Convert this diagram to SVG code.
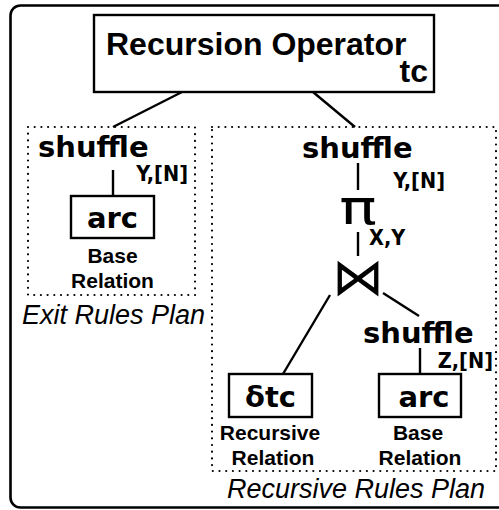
<svg xmlns="http://www.w3.org/2000/svg" width="499" height="510" viewBox="0 0 499 510">
  <style>
    .frame { fill: none; stroke: #000; stroke-width: 2.6; }
    .box { fill: #fff; stroke: #000; stroke-width: 2.4; }
    .plan { fill: none; stroke: #000; stroke-width: 2.2; stroke-dasharray: 0 6.7; stroke-linecap: round; }
    .edge { stroke: #000; stroke-width: 2.4; fill: none; }
    .title { font-family: "Liberation Sans", Arial, sans-serif; font-weight: bold; font-size: 32px; }
    .op { font-family: "DejaVu Sans", sans-serif; font-weight: bold; font-size: 29px; }
    .key { font-family: "DejaVu Sans Condensed", "DejaVu Sans", sans-serif; font-weight: bold; font-size: 21.5px; }
    .cap { font-family: "Liberation Sans", Arial, sans-serif; font-weight: bold; font-size: 21px; text-anchor: middle; }
    .plan-label { font-family: "Liberation Sans", Arial, sans-serif; font-style: italic; font-size: 27px; }
    .mid { text-anchor: middle; }
    .pi { font-family: "DejaVu Sans", sans-serif; font-size: 48px; text-anchor: middle; }
    .bowtie { font-family: "DejaVu Sans", sans-serif; font-size: 52px; text-anchor: middle; }
  </style>

  <!-- outer frame -->
  <rect class="frame" x="10.5" y="5.5" width="500" height="502" rx="10" ry="10"/>

  <!-- plan regions -->
  <g id="exit-plan">
    <rect class="plan" x="28" y="127" width="167" height="168"/>
    <text class="plan-label" x="22" y="324">Exit Rules Plan</text>
  </g>
  <g id="recursive-plan">
    <rect class="plan" x="212" y="127" width="284" height="344"/>
    <text class="plan-label" x="227" y="498">Recursive Rules Plan</text>
  </g>

  <!-- connectors -->
  <g id="connectors">
    <line class="edge" x1="182" y1="92" x2="113" y2="127"/>
    <line class="edge" x1="313" y1="92" x2="355" y2="127"/>
    <line class="edge" x1="113" y1="170" x2="113" y2="196"/>
    <line class="edge" x1="358" y1="163" x2="358" y2="190"/>
    <line class="edge" x1="358" y1="232" x2="358" y2="256"/>
    <line class="edge" x1="330" y1="295" x2="283" y2="374"/>
    <line class="edge" x1="383" y1="293" x2="419" y2="316"/>
    <line class="edge" x1="420" y1="348" x2="420" y2="374"/>
  </g>

  <!-- nodes -->
  <g id="recursion-operator">
    <rect class="box" x="94" y="15" width="340" height="77"/>
    <text class="title" x="106" y="55">Recursion Operator</text>
    <text class="title" x="428" y="82" text-anchor="end">tc</text>
  </g>

  <g id="exit-shuffle">
    <text class="op" x="38" y="157">shuffle</text>
    <text class="key" x="188" y="181" text-anchor="end">Y,[N]</text>
  </g>

  <g id="exit-arc">
    <rect class="box" x="71" y="196" width="83" height="42"/>
    <text class="op mid" x="112.5" y="228">arc</text>
    <text class="cap" x="112.5" y="263">Base</text>
    <text class="cap" x="112.5" y="288">Relation</text>
  </g>

  <g id="rec-shuffle">
    <text class="op" x="302" y="158">shuffle</text>
    <text class="key" x="445" y="188" text-anchor="end">Y,[N]</text>
  </g>

  <g id="projection">
    <text class="pi" transform="translate(358 224) scale(1.3 1)">π</text>
    <text class="key" x="369" y="245">X,Y</text>
  </g>

  <g id="join">
    <text class="bowtie" x="358" y="295">⋈</text>
  </g>

  <g id="rec-shuffle-arc">
    <text class="op" x="363" y="343">shuffle</text>
    <text class="key" x="493" y="368" text-anchor="end">Z,[N]</text>
  </g>

  <g id="delta-tc">
    <rect class="box" x="229" y="374" width="83" height="43"/>
    <text class="op mid" x="270.5" y="407">δtc</text>
    <text class="cap" x="270" y="440">Recursive</text>
    <text class="cap" x="273" y="465">Relation</text>
  </g>

  <g id="rec-arc">
    <rect class="box" x="379" y="374" width="82" height="43"/>
    <text class="op mid" x="424" y="407">arc</text>
    <text class="cap" x="418" y="440">Base</text>
    <text class="cap" x="420" y="465">Relation</text>
  </g>
</svg>
